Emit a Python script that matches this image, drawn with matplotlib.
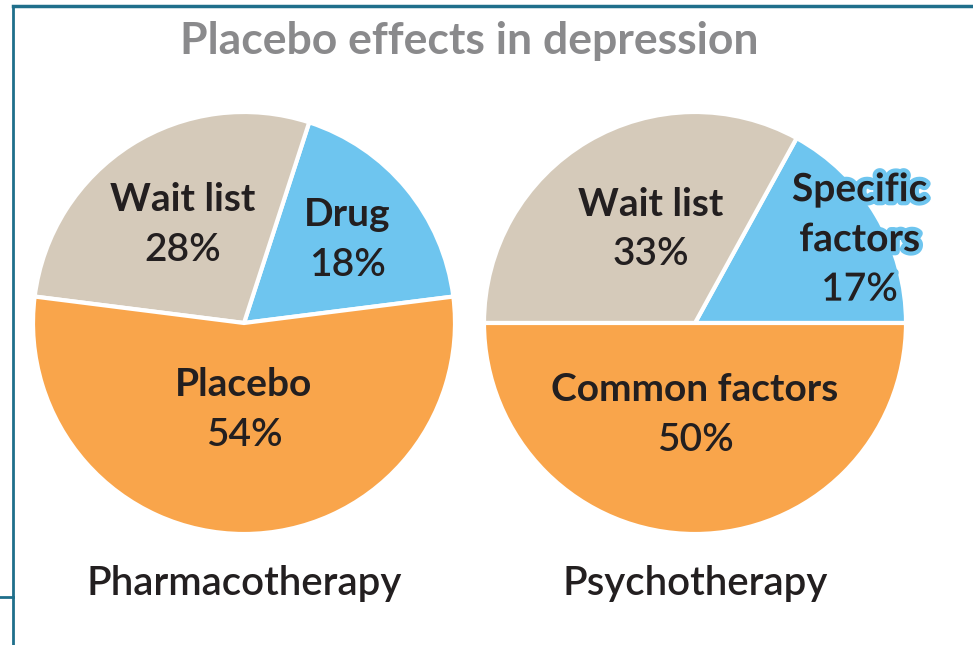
import matplotlib.pyplot as plt
import matplotlib.patheffects as pe
from matplotlib.lines import Line2D

# -----------------------------
# Data
# -----------------------------
pharma_labels = ["Drug", "Wait list", "Placebo"]
pharma_values = [18, 28, 54]
pharma_colors = ["#6EC5EF", "#D5CABA", "#F9A54B"]

psycho_labels = ["Specific\nfactors", "Wait list", "Common factors"]
psycho_values = [17, 33, 50]
psycho_colors = ["#6EC5EF", "#D5CABA", "#F9A54B"]

# label block centres inside each pie (in pie radius units)
pharma_text_pos = [(0.49, 0.395), (-0.29, 0.465), (0.0, -0.41)]
psycho_text_pos = [(0.78, 0.395), (-0.21, 0.445), (0.0, -0.435)]

W, H = 973, 645
plt.rcParams["font.family"] = ["Lato", "DejaVu Sans"]
fig = plt.figure(figsize=(W / 100, H / 100), dpi=100)

# -----------------------------
# Frame lines
# -----------------------------
fig.add_artist(Line2D([13 / W, 13 / W], [0, 1 - 6 / H], color="#1F6F8B", lw=2))
fig.add_artist(Line2D([13 / W, 1], [1 - 6 / H, 1 - 6 / H], color="#1F6F8B", lw=2.5))
fig.add_artist(Line2D([0, 13 / W], [1 - 597 / H, 1 - 597 / H], color="#1F6F8B", lw=2))

fig.text(469 / W, 1 - 41 / H, "Placebo effects in depression", ha="center", va="center",
         fontsize=32, fontweight="bold", color="#8A8A8C")

TXT = "#231F20"
STEP = 0.237  # line step in radius units (~50 px)


def draw_pie(cx, cy, r, values, colors, labels, text_pos, start, name, glow=False):
    ax = fig.add_axes([(cx - r) / W, 1 - (cy + r) / H, 2 * r / W, 2 * r / H])
    ax.pie(values, colors=colors, startangle=start, counterclock=True,
           wedgeprops=dict(edgecolor="white", linewidth=3))
    ax.set_xlim(-1, 1)
    ax.set_ylim(-1, 1)
    ax.set_aspect("equal")
    ax.axis("off")
    for i, (lab, val) in enumerate(zip(labels, values)):
        x, y = text_pos[i]
        effects = None
        if glow and i == 0:
            effects = [pe.withStroke(linewidth=6, foreground=colors[0])]
        lines = lab.split("\n")
        n = len(lines) + 1
        top = y + STEP * (n - 1) / 2
        for k, line in enumerate(lines):
            ax.text(x, top - k * STEP, line, ha="center", va="center", fontsize=28,
                    fontweight="bold", color=TXT, path_effects=effects)
        ax.text(x, top - (n - 1) * STEP, f"{val}%", ha="center", va="center",
                fontsize=28, fontweight="semibold", color=TXT, path_effects=effects)
    fig.text(cx / W, 1 - 583 / H, name, ha="center", va="center", fontsize=29,
             fontweight="semibold", color=TXT)


draw_pie(244, 323, 211, pharma_values, pharma_colors, pharma_labels, pharma_text_pos,
         7.2, "Pharmacotherapy")
draw_pie(695, 323, 211, psycho_values, psycho_colors, psycho_labels, psycho_text_pos,
         0, "Psychotherapy", glow=True)

plt.savefig("out.png", dpi=100)
